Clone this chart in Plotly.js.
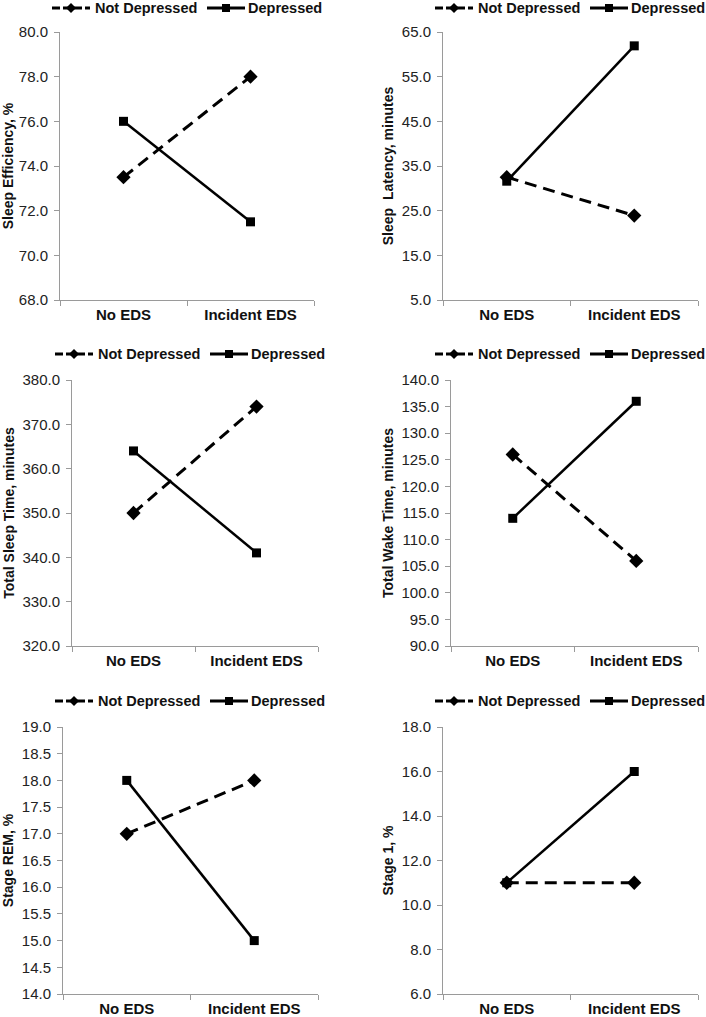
<!DOCTYPE html>
<html>
<head>
<meta charset="utf-8">
<script src="https://cdn.plot.ly/plotly-3.0.1.min.js"></script>
<style>
  html, body { margin: 0; padding: 0; background: #fff; }
  #myDiv { width: 706px; height: 1017px; }
</style>
</head>
<body>
<div id="myDiv"></div>
<script>
const categories = ['No EDS', 'Incident EDS'];
const seriesNames = ['Not Depressed', 'Depressed'];

// values: [No EDS, Incident EDS]
const effNotDep = [73.5, 78.0];
const effDep = [76.0, 71.5];
const latNotDep = [32.5, 23.9];
const latDep = [31.6, 61.9];
const tstNotDep = [350, 374];
const tstDep = [364, 341];
const twtNotDep = [126, 106];
const twtDep = [114, 136];
const remNotDep = [17.0, 18.0];
const remDep = [18.0, 15.0];
const st1NotDep = [11.0, 11.0];
const st1Dep = [11.0, 16.0];

const yTitles = ['Sleep Efficiency, %', 'Sleep  Latency, minutes',
                 'Total Sleep Time, minutes', 'Total Wake Time, minutes',
                 'Stage REM, %', 'Stage 1, %'];
const yRanges = [[68, 80], [5, 65], [320, 380], [90, 140], [14, 19], [6, 18]];
const yDticks = [2, 10, 10, 5, 0.5, 2];

const panels = [
  [effNotDep, effDep], [latNotDep, latDep],
  [tstNotDep, tstDep], [twtNotDep, twtDep],
  [remNotDep, remDep], [st1NotDep, st1Dep]
];

// plot boxes in pixels: [left, right, top, bottom]
const W = 706, H = 1017;
const boxes = [
  [60, 314, 32, 300], [443, 698, 32, 300],
  [72, 318, 380, 646], [451, 698, 380, 646],
  [63, 318, 727, 994], [443, 698, 727, 994]
];
// legend start x and centre y, in pixels
const legendPos = [[52, 8], [435, 8], [55, 354], [435, 354], [55, 701], [435, 701]];

const fontFam = 'Arial, "Liberation Sans", sans-serif';
const axisGray = '#9a9a9a';

var data = [];
var shapes = [];
var annotations = [];
var layout = {
  width: W, height: H,
  margin: {l: 0, r: 0, t: 0, b: 0},
  paper_bgcolor: '#fff', plot_bgcolor: '#fff',
  font: {family: fontFam, color: '#111'},
  showlegend: false
};

const px = v => v / W;
const py = v => 1 - v / H;

function legendMarker(cx, cy, path) {
  shapes.push({
    type: 'path', xref: 'paper', yref: 'paper',
    xsizemode: 'pixel', ysizemode: 'pixel',
    xanchor: px(cx), yanchor: py(cy),
    path: path, fillcolor: '#000', line: {width: 0}
  });
}

panels.forEach((p, i) => {
  const n = i + 1;
  const xa = n === 1 ? 'x' : 'x' + n;
  const ya = n === 1 ? 'y' : 'y' + n;

  data.push({
    x: categories, y: p[0], xaxis: xa, yaxis: ya,
    type: 'scatter', mode: 'lines+markers', name: seriesNames[0],
    line: {color: '#000', width: 3, dash: '12px,7px'},
    marker: {symbol: 'diamond', size: 11, color: '#000'}
  });
  data.push({
    x: categories, y: p[1], xaxis: xa, yaxis: ya,
    type: 'scatter', mode: 'lines+markers', name: seriesNames[1],
    line: {color: '#000', width: 2.5},
    marker: {symbol: 'square', size: 9, color: '#000'}
  });

  const b = boxes[i];
  layout['xaxis' + (n === 1 ? '' : n)] = {
    domain: [px(b[0]), px(b[1])],
    anchor: ya,
    type: 'category',
    range: [-0.5, 1.5],
    showline: true, linecolor: axisGray, linewidth: 1,
    ticks: 'outside', tickson: 'boundaries', ticklen: 5, tickcolor: axisGray,
    ticklabelstandoff: 1,
    showgrid: false, zeroline: false,
    tickfont: {family: fontFam, size: 15, weight: 'bold', color: '#111'},
    fixedrange: true
  };
  layout['yaxis' + (n === 1 ? '' : n)] = {
    domain: [py(b[3]), py(b[2])],
    anchor: xa,
    range: yRanges[i],
    tick0: yRanges[i][0], dtick: yDticks[i], tickformat: '.1f',
    showline: true, linecolor: axisGray, linewidth: 1,
    ticks: 'outside', ticklen: 5, tickcolor: axisGray,
    ticklabelstandoff: 3,
    showgrid: false, zeroline: false,
    tickfont: {family: fontFam, size: 15, color: '#222'},
    title: {text: yTitles[i], standoff: 4,
            font: {family: fontFam, size: 14, weight: 'bold', color: '#111'}},
    fixedrange: true
  };

  // legend drawn per panel: dashed sample + diamond, solid sample + square
  const L = legendPos[i][0], cy = legendPos[i][1];
  shapes.push({type: 'line', xref: 'paper', yref: 'paper',
    x0: px(L), x1: px(L + 38), y0: py(cy), y1: py(cy),
    line: {color: '#000', width: 3, dash: '8px,3px'}});
  legendMarker(L + 19, cy, 'M0,5L5,0L0,-5L-5,0Z');
  shapes.push({type: 'line', xref: 'paper', yref: 'paper',
    x0: px(L + 155), x1: px(L + 193), y0: py(cy), y1: py(cy),
    line: {color: '#000', width: 3}});
  legendMarker(L + 174, cy, 'M-4,-4H4V4H-4Z');
  const lfont = {family: fontFam, size: 14.5, weight: 'bold', color: '#111'};
  annotations.push({text: seriesNames[0], xref: 'paper', yref: 'paper',
    x: px(L + 42), y: py(cy), xanchor: 'left', yanchor: 'middle',
    showarrow: false, font: lfont, borderpad: 0});
  annotations.push({text: seriesNames[1], xref: 'paper', yref: 'paper',
    x: px(L + 195), y: py(cy), xanchor: 'left', yanchor: 'middle',
    showarrow: false, font: lfont, borderpad: 0});
});

layout.shapes = shapes;
layout.annotations = annotations;

Plotly.newPlot('myDiv', data, layout, {displayModeBar: false, staticPlot: true});
</script>
</body>
</html>
